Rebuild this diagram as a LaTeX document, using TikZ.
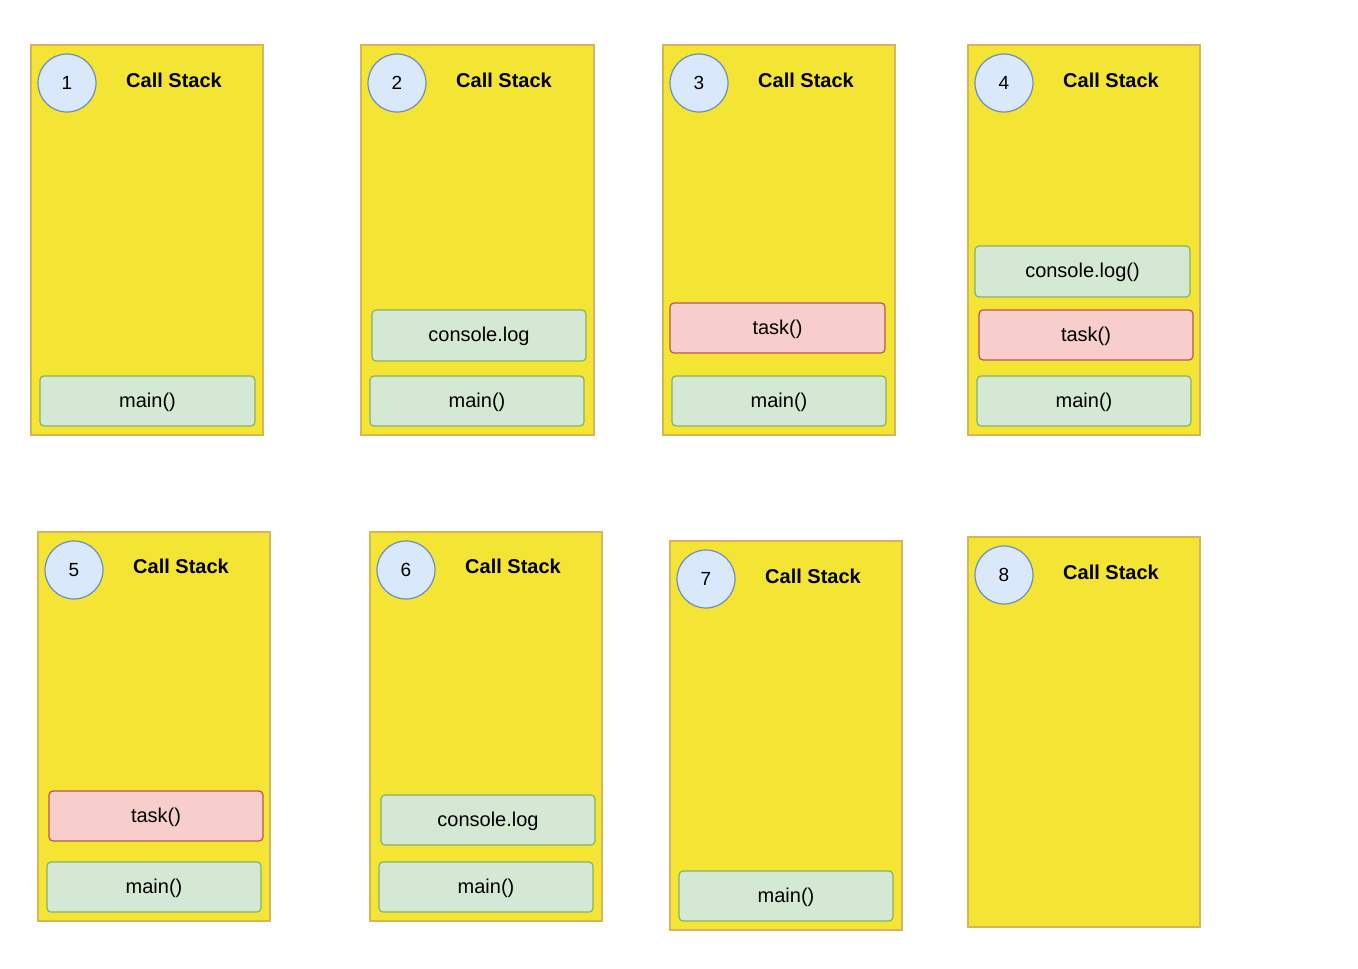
\documentclass[tikz,border=0pt]{standalone}
\usepackage{fontspec}
\setmainfont{Liberation Sans}
\definecolor{yel}{HTML}{F4E433}
\definecolor{yelb}{HTML}{D6B656}
\definecolor{grn}{HTML}{D5E8D4}
\definecolor{grnb}{HTML}{82B366}
\definecolor{rd}{HTML}{F8CECC}
\definecolor{rdb}{HTML}{B85450}
\definecolor{bl}{HTML}{DAE8FC}
\definecolor{blb}{HTML}{6C8EBF}
\begin{document}
\begin{tikzpicture}[x=1pt,y=-1pt,
  panel/.style={fill=yel,draw=yelb,line width=1.2pt},
  gbox/.style={fill=grn,draw=grnb,line width=1.2pt,rounded corners=4pt},
  rbox/.style={fill=rd,draw=rdb,line width=1.2pt,rounded corners=4pt},
  num/.style={circle,fill=bl,draw=blb,line width=1.2pt,minimum size=58pt,inner sep=0pt,font=\fontsize{19}{22}\selectfont},
  ttl/.style={font=\fontsize{20}{24}\selectfont\bfseries},
  lbl/.style={font=\fontsize{20}{24}\selectfont}]
\useasboundingbox (0,0) rectangle (1358,969);
\newcommand{\panel}[7]{% name x1 y1 x2 y2 number circlex circley titlex titley
}
% panels
\draw[panel] (31,45) rectangle (263,435);
\draw[panel] (361,45) rectangle (594,435);
\draw[panel] (663,45) rectangle (895,435);
\draw[panel] (968,45) rectangle (1200,435);
\draw[panel] (38,532) rectangle (270,921);
\draw[panel] (370,532) rectangle (602,921);
\draw[panel] (670,541) rectangle (902,930);
\draw[panel] (968,537) rectangle (1200,927);
% circles and titles
\node[num] (c1) at (67,83) {1}; \node[ttl] (t1) at (174,80) {Call Stack};
\node[num] (c2) at (397,83) {2}; \node[ttl] (t2) at (504,80) {Call Stack};
\node[num] (c3) at (699,83) {3}; \node[ttl] (t3) at (806,80) {Call Stack};
\node[num] (c4) at (1004,83) {4}; \node[ttl] (t4) at (1111,80) {Call Stack};
\node[num] (c5) at (74,570) {5}; \node[ttl] (t5) at (181,566) {Call Stack};
\node[num] (c6) at (406,570) {6}; \node[ttl] (t6) at (513,566) {Call Stack};
\node[num] (c7) at (706,579) {7}; \node[ttl] (t7) at (813,576) {Call Stack};
\node[num] (c8) at (1004,575) {8}; \node[ttl] (t8) at (1111,572) {Call Stack};
% boxes
\draw[gbox] (40,376) rectangle (255,426); \node[lbl] (m1) at (147.5,402) {main()};
\draw[gbox] (372,310) rectangle (586,361); \node[lbl] (l2) at (479,336) {console.log};
\draw[gbox] (370,376) rectangle (584,426); \node[lbl] (m2) at (477,402) {main()};
\draw[rbox] (670,303) rectangle (885,353); \node[lbl] (k3) at (777.5,329) {task()};
\draw[gbox] (672,376) rectangle (886,426); \node[lbl] (m3) at (779,402) {main()};
\draw[gbox] (975,246) rectangle (1190,297); \node[lbl] (l4) at (1082.5,272) {console.log()};
\draw[rbox] (979,310) rectangle (1193,360); \node[lbl] (k4) at (1086,336) {task()};
\draw[gbox] (977,376) rectangle (1191,426); \node[lbl] (m4) at (1084,402) {main()};
\draw[rbox] (49,791) rectangle (263,841); \node[lbl] (k5) at (156,817) {task()};
\draw[gbox] (47,862) rectangle (261,912); \node[lbl] (m5) at (154,888) {main()};
\draw[gbox] (381,795) rectangle (595,845); \node[lbl] (l6) at (488,821) {console.log};
\draw[gbox] (379,862) rectangle (593,912); \node[lbl] (m6) at (486,888) {main()};
\draw[gbox] (679,871) rectangle (893,921); \node[lbl] (m7) at (786,897) {main()};
\end{tikzpicture}
\end{document}
